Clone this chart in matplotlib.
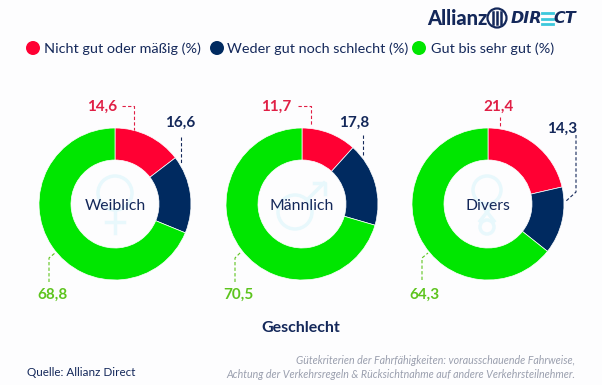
"""
Driving ability ratings by gender, shown as three donut charts.
"""

import matplotlib
matplotlib.use('Agg')
import matplotlib.pyplot as plt
from matplotlib.patches import Circle

WIDTH, HEIGHT = 602, 385

# Data
genders = ['Weiblich', 'Männlich', 'Divers']
nicht_gut = [14.6, 11.7, 21.4]
weder_noch = [16.6, 17.8, 14.3]
gut = [68.8, 70.5, 64.3]
legend_labels = ['Nicht gut oder mäßig (%)', 'Weder gut noch schlecht (%)', 'Gut bis sehr gut (%)']

# Styles
RED = '#FF0033'
NAVY = '#002A60'
GREEN = '#00E600'
RED_TEXT = '#E01F45'
NAVY_TEXT = '#14285A'
GREEN_TEXT = '#5DC41E'
ICON = '#E8F8FC'
FONT = 'Lato'

plt.rcParams['font.family'] = [FONT, 'DejaVu Sans']


def py(y):
  # Layout below is measured from the top of the picture
  return HEIGHT - y


def leader(ax, points, color):
  xs = [p[0] for p in points]
  ys = [py(p[1]) for p in points]
  ax.plot(xs, ys, color=color, linewidth=0.8, dashes=(3, 2), zorder=3)


def value_text(ax, x, y, value, color):
  ax.text(x, py(y + 1), f'{value:.1f}'.replace('.', ','), color=color, fontsize=11,
          fontweight='bold', ha='center', va='center')


fig = plt.figure(figsize=(WIDTH / 100, HEIGHT / 100), dpi=100, facecolor='#FDFDFE')
ax = fig.add_axes([0, 0, 1, 1])

# Donuts
centers = [115, 302, 488]
for cx, a, b, c in zip(centers, nicht_gut, weder_noch, gut):
  ax.pie([a, b, c], colors=[RED, NAVY, GREEN], startangle=90, counterclock=False,
         center=(cx, py(204)), radius=76,
         wedgeprops={'width': 32, 'edgecolor': 'white', 'linewidth': 0.5})

ax.set_xlim(0, WIDTH)
ax.set_ylim(0, HEIGHT)
ax.set_aspect('equal')
ax.axis('off')

# Faint gender symbols behind the centre labels
ax.add_patch(Circle((115, py(193)), 17, fill=False, edgecolor=ICON, linewidth=2.5))
ax.plot([115, 115], [py(210), py(233)], color=ICON, linewidth=2.5)
ax.plot([106, 124], [py(222), py(222)], color=ICON, linewidth=2.5)

ax.add_patch(Circle((295, py(212)), 17, fill=False, edgecolor=ICON, linewidth=2.5))
ax.plot([307, 324], [py(200), py(183)], color=ICON, linewidth=2.5)
ax.plot([314, 325, 325], [py(183), py(183), py(194)], color=ICON, linewidth=2.5)

ax.add_patch(Circle((487, py(190)), 14, fill=False, edgecolor=ICON, linewidth=2.5))
ax.add_patch(Circle((487, py(227)), 7, fill=False, edgecolor=ICON, linewidth=2.5))
ax.plot([480, 494], [py(203), py(221)], color=ICON, linewidth=2.5)
ax.plot([494, 480], [py(203), py(221)], color=ICON, linewidth=2.5)

for cx, name in zip(centers, genders):
  ax.text(cx, py(205.5), name, color=NAVY_TEXT, fontsize=11.3, ha='center', va='center')

# Value labels and their dashed leader lines
red_pos = [(102, 106), (276, 106), (498, 106)]
navy_pos = [(180, 122), (354, 122), (562, 128)]
green_pos = [(52, 294), (238, 294), (424, 294)]
for i in range(3):
  value_text(ax, *red_pos[i], nicht_gut[i], RED_TEXT)
  value_text(ax, *navy_pos[i], weder_noch[i], NAVY_TEXT)
  value_text(ax, *green_pos[i], gut[i], GREEN_TEXT)

leader(ax, [(122, 106), (134, 106), (134, 130)], RED_TEXT)
leader(ax, [(298, 106), (311, 106), (311, 125)], RED_TEXT)
leader(ax, [(500, 117), (500, 127)], RED_TEXT)
leader(ax, [(181, 137), (181, 163)], NAVY_TEXT)
leader(ax, [(363, 135), (363, 157)], NAVY_TEXT)
leader(ax, [(576, 135), (576, 192), (565, 202)], NAVY_TEXT)
leader(ax, [(49, 282), (49, 258), (55, 253)], GREEN_TEXT)
leader(ax, [(235, 282), (235, 258), (241, 252)], GREEN_TEXT)
leader(ax, [(422, 280), (422, 258), (428, 253)], GREEN_TEXT)

# Legend
legend_dots = [33, 217, 419]
legend_text = [44, 227, 431]
for dot, tx, label, color in zip(legend_dots, legend_text, legend_labels, [RED, NAVY, GREEN]):
  ax.add_patch(Circle((dot, py(48)), 7, color=color, linewidth=0))
  ax.text(tx, py(49), label, color=NAVY_TEXT, fontsize=10.4, ha='left', va='center')

# Logo
ax.text(427, py(18.5), 'Allianz', color=NAVY_TEXT, fontsize=14.5, fontweight='black', ha='left', va='center')
ax.add_patch(Circle((497, py(18)), 9.5, fill=False, edgecolor=NAVY_TEXT, linewidth=1.6))
for x0 in (493, 497, 501):
  ax.plot([x0, x0], [py(12), py(24)], color=NAVY_TEXT, linewidth=1.8)
ax.text(511, py(18.5), 'DIR', color=NAVY_TEXT, fontsize=11.5, fontweight='bold', style='italic',
        family='DejaVu Sans', ha='left', va='center')
for y0 in (13, 18.5, 24):
  ax.plot([542, 553], [py(y0), py(y0)], color='#3CC8DC', linewidth=2)
ax.text(553, py(18.5), 'CT', color=NAVY_TEXT, fontsize=11.5, fontweight='bold', style='italic',
        family='DejaVu Sans', ha='left', va='center')

# Footer
ax.text(301, py(328), 'Geschlecht', color=NAVY_TEXT, fontsize=11.5, fontweight='bold', ha='center', va='center')
ax.text(27, py(372), 'Quelle: Allianz Direct', color=NAVY_TEXT, fontsize=8.4, ha='left', va='center')
ax.text(575, py(361), 'Gütekriterien der Fahrfähigkeiten: vorausschauende Fahrweise,', color='#9A9FAE',
        fontsize=7.7, style='italic', ha='right', va='center')
ax.text(575, py(374), 'Achtung der Verkehrsregeln & Rücksichtnahme auf andere Verkehrsteilnehmer.', color='#9A9FAE',
        fontsize=7.7, style='italic', ha='right', va='center')

plt.savefig('out.png', dpi=100, facecolor=fig.get_facecolor())
plt.close()
